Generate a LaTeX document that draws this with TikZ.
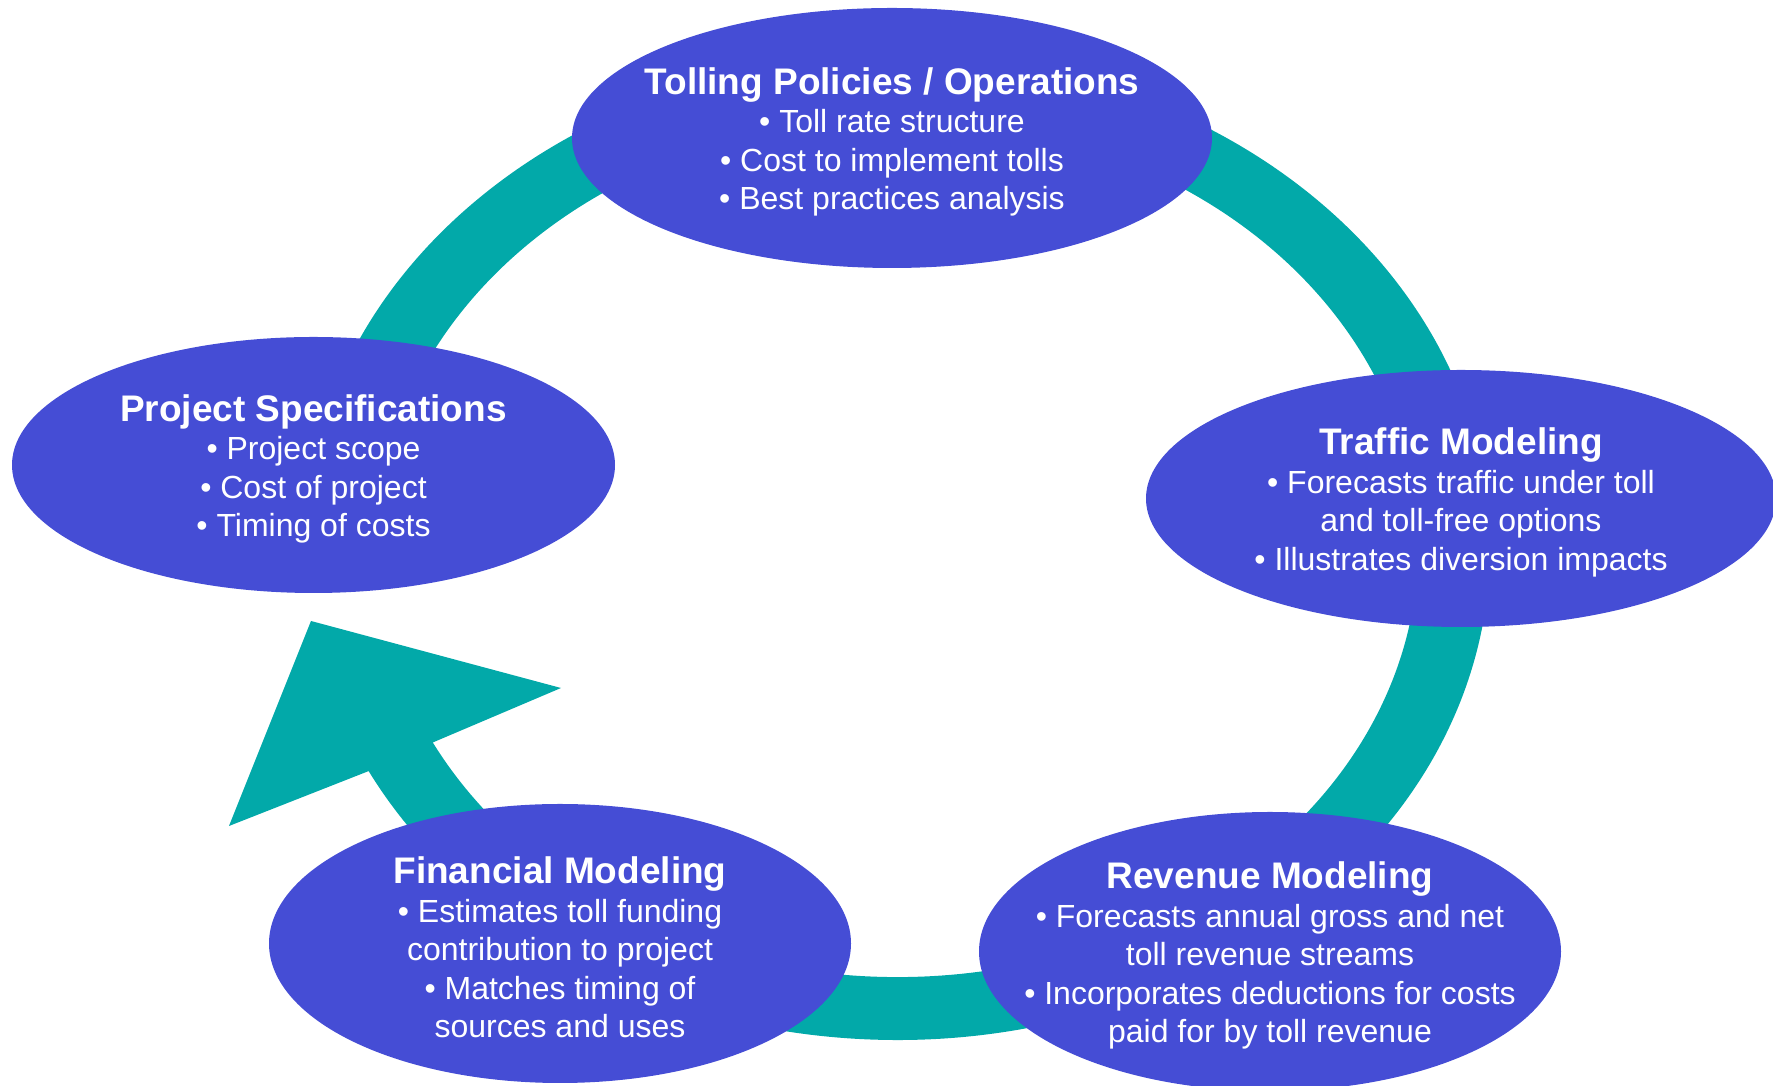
\documentclass[tikz,border=0pt]{standalone}
\usepackage{fontspec}
\setmainfont{Liberation Sans}
\usetikzlibrary{shapes.geometric,calc}
\definecolor{nodeblue}{RGB}{69,77,213}
\definecolor{ringteal}{RGB}{2,169,169}
\begin{document}
\begin{tikzpicture}[x=1pt,y=1pt,
  stage/.style={ellipse, fill=nodeblue, draw=none, inner sep=0pt},
  stagetext/.style={text=white, align=center, inner sep=0pt, yshift=-4pt,
    font=\fontsize{32}{38.5}\selectfont},
  ttl/.style={}]
\useasboundingbox (0,0) rectangle (1773,1086);
% ring with arrow
\coordinate (rc) at (897,538.5);
\coordinate (barbL) at (229,260);
\coordinate (tip) at (311,465);
\coordinate (barbR) at (561,398);
\fill[ringteal] ($(rc)+(175:593pt and 492.5pt)$)
  arc[start angle=175,end angle=-153,x radius=593pt,y radius=492.5pt]
  -- (barbL) -- (tip) -- (barbR)
  -- ($(rc)+(-153:521pt and 429.5pt)$)
  arc[start angle=-153,end angle=175,x radius=521pt,y radius=429.5pt]
  -- cycle;
% stages
\node[stage, minimum width=640pt, minimum height=260pt] (tolling) at (892,948) {};
\node[stage, minimum width=603pt, minimum height=256pt] (project) at (313.5,621) {};
\node[stage, minimum width=630pt, minimum height=257pt] (traffic) at (1461,587.5) {};
\node[stage, minimum width=582pt, minimum height=279pt] (revenue) at (1270,134.5) {};
\node[stage, minimum width=582pt, minimum height=279pt] (financial) at (560,142.5) {};
\newcommand{\ttlfont}{\fontsize{37}{38.5}\selectfont\bfseries}
\node[stagetext] (tolling-t) at (tolling.center)
  {{\ttlfont Tolling Policies / Operations}\\ • Toll rate structure\\ • Cost to implement tolls\\ • Best practices analysis};
\node[stagetext] (project-t) at (project.center)
  {{\ttlfont Project Specifications}\\ • Project scope\\ • Cost of project\\ • Timing of costs};
\node[stagetext] (traffic-t) at (traffic.center)
  {{\ttlfont Traffic Modeling}\\ • Forecasts traffic under toll\\ and toll-free options\\ • Illustrates diversion impacts};
\node[stagetext] (revenue-t) at (revenue.center)
  {{\ttlfont Revenue Modeling}\\ • Forecasts annual gross and net\\ toll revenue streams\\ • Incorporates deductions for costs\\ paid for by toll revenue};
\node[stagetext] (financial-t) at (financial.center)
  {{\ttlfont Financial Modeling}\\ • Estimates toll funding\\ contribution to project\\ • Matches timing of\\ sources and uses};
\end{tikzpicture}
\end{document}
